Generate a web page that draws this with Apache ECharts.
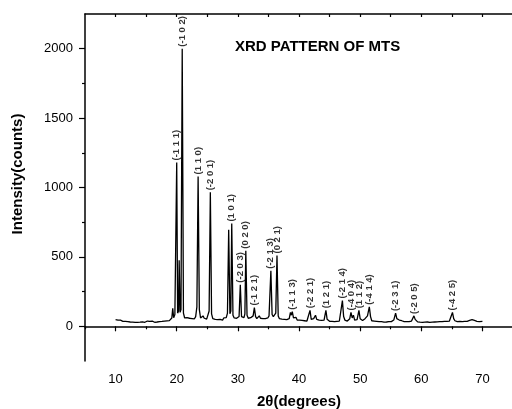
<!DOCTYPE html>
<html>
<head>
<meta charset="utf-8">
<script src="https://cdn.jsdelivr.net/npm/echarts@6/dist/echarts.min.js"></script>
<style>
  html, body { margin: 0; padding: 0; background: #fff; }
  #chart { width: 512px; height: 409px; }
</style>
</head>
<body>
<div id="chart"></div>
<script>
// diffraction scan
var twoTheta = [
  10.0, 10.2, 10.4, 10.6, 10.8, 11.0, 11.2, 11.4, 11.6, 11.8, 12.0, 12.2, 12.4, 12.6, 12.8,
  13.0, 13.2, 13.4, 13.6, 13.8, 14.0, 14.2, 14.4, 14.6, 14.8, 15.0, 15.2, 15.4, 15.6, 15.8,
  16.0, 16.2, 16.4, 16.6, 16.8, 17.0, 17.2, 17.4, 17.6, 17.8, 18.0, 18.2, 18.4, 18.6, 18.8,
  19.0, 19.2, 19.35, 19.5, 19.7, 19.85, 20.0, 20.15, 20.3, 20.4, 20.55, 20.7, 20.9, 21.1, 21.3,
  21.5, 21.7, 21.9, 22.1, 22.3, 22.5, 22.7, 22.9, 23.1, 23.3, 23.5, 23.7, 23.9, 24.1, 24.3,
  24.5, 24.7, 24.9, 25.1, 25.3, 25.5, 25.7, 25.9, 26.1, 26.3, 26.5, 26.7, 26.9, 27.1, 27.3,
  27.5, 27.7, 27.9, 28.1, 28.3, 28.5, 28.7, 28.85, 29.0, 29.2, 29.4, 29.6, 29.8, 30.0, 30.2,
  30.4, 30.6, 30.8, 31.0, 31.15, 31.3, 31.5, 31.7, 31.9, 32.1, 32.3, 32.5, 32.7, 32.9, 33.1,
  33.3, 33.5, 33.7, 33.9, 34.1, 34.3, 34.5, 34.7, 34.9, 35.1, 35.4, 35.6, 35.8, 36.0, 36.2,
  36.4, 36.6, 36.8, 37.0, 37.2, 37.4, 37.6, 37.8, 38.0, 38.2, 38.4, 38.6, 38.75, 38.9, 39.1,
  39.3, 39.5, 39.7, 39.9, 40.1, 40.3, 40.5, 40.7, 40.9, 41.1, 41.3, 41.5, 41.8, 42.0, 42.2,
  42.4, 42.7, 42.9, 43.1, 43.3, 43.5, 43.7, 43.9, 44.1, 44.4, 44.6, 44.8, 45.0, 45.2, 45.4,
  45.6, 45.8, 46.0, 46.2, 46.4, 46.6, 46.8, 47.1, 47.3, 47.5, 47.7, 47.9, 48.1, 48.3, 48.5,
  48.7, 48.9, 49.1, 49.3, 49.5, 49.8, 50.0, 50.2, 50.4, 50.6, 50.8, 51.0, 51.2, 51.5, 51.7,
  51.9, 52.1, 52.3, 52.5, 52.7, 52.9, 53.1, 53.3, 53.5, 53.7, 53.9, 54.1, 54.3, 54.5, 54.7,
  54.9, 55.1, 55.3, 55.5, 55.8, 56.0, 56.2, 56.4, 56.6, 56.8, 57.0, 57.2, 57.4, 57.6, 57.8,
  58.0, 58.2, 58.4, 58.6, 58.8, 59.0, 59.2, 59.4, 59.6, 59.8, 60.0, 60.2, 60.4, 60.6, 60.8,
  61.0, 61.2, 61.4, 61.6, 61.8, 62.0, 62.2, 62.4, 62.6, 62.8, 63.0, 63.2, 63.4, 63.6, 63.8,
  64.0, 64.2, 64.4, 64.6, 64.8, 65.1, 65.3, 65.5, 65.7, 65.9, 66.1, 66.3, 66.5, 66.7, 66.9,
  67.1, 67.3, 67.5, 67.7, 67.9, 68.1, 68.3, 68.5, 68.7, 68.9, 69.1, 69.3, 69.5, 69.7, 70.0
];
var intensity = [
  48, 42, 45, 38, 44, 40, 36, 41, 35, 39, 33, 37, 31, 36, 30,
  34, 28, 33, 29, 35, 30, 38, 32, 36, 29, 34, 38, 31, 35, 30,
  37, 33, 29, 36, 31, 38, 34, 40, 35, 42, 37, 44, 39, 45, 41,
  50, 60, 130, 62, 85, 90, 1180, 95, 110, 475, 100, 120, 2000, 95, 60,
  55, 62, 52, 58, 50, 56, 60, 54, 70, 140, 1080, 120, 60, 55, 75,
  58, 70, 52, 60, 110, 965, 90, 55, 60, 50, 58, 48, 55, 50, 58,
  45, 60, 55, 62, 95, 695, 90, 110, 740, 80, 60, 52, 58, 55, 70,
  300, 70, 58, 62, 90, 545, 80, 58, 55, 62, 60, 75, 135, 70, 55,
  60, 75, 58, 52, 56, 50, 55, 58, 60, 75, 400, 85, 70, 65, 95,
  510, 75, 55, 48, 52, 45, 50, 42, 48, 44, 55, 100, 80, 105, 60,
  50, 65, 45, 40, 44, 38, 42, 36, 40, 44, 38, 48, 115, 50, 45,
  55, 80, 50, 40, 44, 36, 42, 38, 45, 115, 50, 40, 36, 42, 35,
  40, 34, 39, 36, 42, 38, 50, 185, 70, 45, 40, 38, 42, 55, 100,
  60, 80, 45, 40, 48, 115, 55, 50, 42, 48, 55, 60, 75, 140, 70,
  40, 35, 38, 32, 36, 30, 34, 29, 33, 37, 30, 35, 31, 36, 33,
  38, 34, 40, 45, 95, 55, 60, 45, 55, 40, 36, 34, 30, 33, 29,
  34, 31, 38, 45, 75, 50, 38, 32, 35, 30, 33, 29, 34, 30, 36,
  31, 35, 29, 33, 30, 35, 31, 36, 32, 30, 34, 29, 33, 31, 36,
  32, 35, 33, 38, 50, 100, 55, 40, 36, 33, 30, 35, 31, 34, 30,
  36, 32, 35, 38, 42, 36, 48, 55, 42, 45, 36, 40, 34, 38, 35
];

// indexed reflections
var peakAngles = [20.0, 20.9, 23.5, 25.5, 29.0, 30.4, 31.3, 32.7, 35.4, 36.4,
  38.9, 41.8, 44.4, 47.1, 48.5, 49.8, 51.5, 55.8, 58.8, 65.1];
var peakHeights = [1180, 2000, 1080, 965, 740, 300, 545, 135, 400, 510,
  105, 115, 115, 185, 100, 115, 140, 95, 75, 100];
var peakLabels = ["(-1 1 1)", "(-1 0 2)", "(1 1 0)", "(-2 0 1)", "(1 0 1)", "(-2 0 3)",
  "(0 2 0)", "(-1 2 1)", "(-2 1 3)", "(0 2 1)", "(-1 1 3)", "(-2 2 1)", "(1 2 1)",
  "(-2 1 4)", "(-4 0 4)", "(1 1 2)", "(-4 1 4)", "(-2 3 1)", "(-2 0 5)", "(-4 2 5)"];

var xMajor = [10, 20, 30, 40, 50, 60, 70];
var xMinor = [5, 15, 25, 35, 45, 55, 65];
var xTop = [10, 15, 20, 25, 30, 35, 40, 45, 50, 55, 60, 65, 70];
var yMajor = [0, 500, 1000, 1500, 2000];
var yMinor = [250, 750, 1250, 1750];

var chartDom = document.getElementById("chart");
var myChart = echarts.init(chartDom);

var font = "Liberation Sans";
var axisLine = { show: true, lineStyle: { color: "#000", width: 1.5 } };
var tickStyle = { color: "#000", width: 1.2 };
var peakPoints = peakAngles.map(function (a, i) { return [a, peakHeights[i], peakLabels[i]]; });

var option = {
  animation: false,
  backgroundColor: "#fff",
  title: {
    text: "XRD PATTERN OF MTS",
    left: 235,
    top: 39,
    padding: 0,
    textStyle: { fontFamily: font, fontSize: 15, fontWeight: "bold", color: "#000" },
  },
  grid: { left: 85, right: -1, top: 14, bottom: 48, outerBoundsMode: "none" },
  graphic: [
    {
      type: "text",
      x: 18,
      y: 174,
      rotation: Math.PI / 2,
      style: {
        text: "Intensity(counts)",
        font: "bold 15px " + font,
        fill: "#000",
        align: "center",
        verticalAlign: "middle",
      },
    },
  ],
  xAxis: [
    {
      type: "value",
      min: 5,
      max: 75,
      position: "bottom",
      axisLine: axisLine,
      axisTick: { show: true, customValues: xMajor, length: 5, lineStyle: tickStyle },
      axisLabel: { customValues: xMajor, margin: 12, fontSize: 13, fontFamily: font, color: "#000" },
      splitLine: { show: false },
      name: "2θ(degrees)",
      nameLocation: "middle",
      nameGap: 33,
      nameTextStyle: { fontFamily: font, fontSize: 15, fontWeight: "bold", color: "#000" },
    },
    {
      type: "value",
      min: 5,
      max: 75,
      position: "bottom",
      axisLine: { show: false },
      axisTick: { show: true, customValues: xMinor, length: 3, lineStyle: tickStyle },
      axisLabel: { show: false },
      splitLine: { show: false },
    },
    {
      type: "value",
      min: 5,
      max: 75,
      position: "top",
      axisLine: axisLine,
      axisTick: { show: true, customValues: xTop, inside: true, length: 3, lineStyle: tickStyle },
      axisLabel: { show: false },
      splitLine: { show: false },
    },
  ],
  yAxis: [
    {
      type: "value",
      min: -250,
      max: 2250,
      position: "left",
      axisLine: axisLine,
      axisTick: { show: true, customValues: yMajor, length: 6, lineStyle: tickStyle },
      axisLabel: {
        customValues: yMajor,
        margin: 12,
        fontSize: 13,
        fontFamily: font,
        color: "#000",
        formatter: function (v) { return String(v); },
      },
      splitLine: { show: false },
    },
    {
      type: "value",
      min: -250,
      max: 2250,
      position: "left",
      axisLine: { show: false },
      axisTick: { show: true, customValues: yMinor, length: 3, lineStyle: tickStyle },
      axisLabel: { show: false },
      splitLine: { show: false },
    },
  ],
  series: [
    {
      type: "line",
      xAxisIndex: 0,
      yAxisIndex: 0,
      data: twoTheta.map(function (t, i) { return [t, intensity[i]]; }),
      showSymbol: false,
      lineStyle: { color: "#000", width: 1.3 },
    },
    {
      type: "scatter",
      xAxisIndex: 0,
      yAxisIndex: 0,
      symbolSize: 0,
      clip: false,
      data: peakPoints,
      label: {
        show: true,
        position: "top",
        distance: 2,
        rotate: 90,
        align: "left",
        verticalAlign: "middle",
        fontFamily: font,
        fontSize: 9.5,
        fontWeight: "bold",
        color: "#000",
        formatter: function (p) { return p.data[2]; },
      },
    },
    // invisible carriers so the extra tick axes are not blank
    { type: "scatter", xAxisIndex: 1, yAxisIndex: 1, symbolSize: 0, silent: true, data: peakPoints },
    { type: "scatter", xAxisIndex: 2, yAxisIndex: 1, symbolSize: 0, silent: true, data: peakPoints },
  ],
};

option && myChart.setOption(option);
</script>
</body>
</html>
